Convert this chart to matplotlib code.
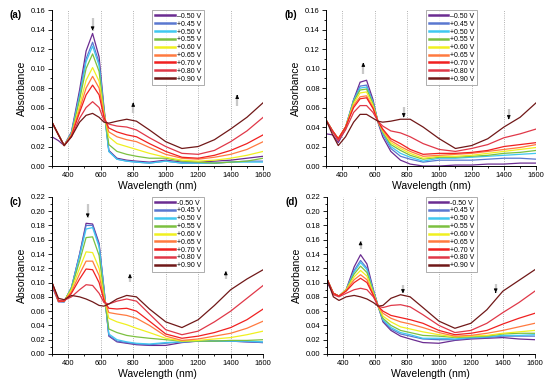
import numpy as np
import matplotlib
matplotlib.use('Agg')
import matplotlib.pyplot as plt
from matplotlib.ticker import MultipleLocator

plt.rcParams['font.family'] = ['Liberation Sans', 'DejaVu Sans']

# wavelength grid (nm) the values were read at
wl = [300, 340, 375, 420, 470, 510, 550, 590, 620, 650, 700, 760, 820, 900, 1000, 1100, 1200, 1300, 1400, 1500, 1600]

potentials = ['0.50 V', '+0.45 V', '+0.50 V', '+0.55 V', '+0.60 V', '+0.65 V', '+0.70 V', '+0.80 V', '+0.90 V']
colors = ['#6b2c91', '#5a78d0', '#40c8f0', '#7cc040', '#f0f020', '#ff7a40', '#f02020', '#e03848', '#701818']

# panel (a)
abs_a = [
    [.030, .026, .021, .035, .078, .118, .136, .112, .060, .016, .008, .006, .005, .004, .006, .004, .004, .005, .006, .008, .010],
    [.045, .032, .021, .034, .074, .110, .127, .106, .058, .015, .007, .005, .004, .003, .005, .003, .003, .003, .004, .005, .005],
    [.044, .032, .021, .034, .072, .107, .123, .103, .057, .015, .007, .005, .004, .003, .005, .003, .003, .003, .004, .004, .004],
    [.045, .032, .021, .033, .068, .100, .115, .097, .056, .022, .015, .012, .010, .008, .008, .005, .004, .003, .004, .005, .008],
    [.045, .032, .021, .032, .062, .088, .101, .087, .054, .030, .023, .020, .017, .013, .009, .006, .005, .006, .008, .011, .015],
    [.045, .032, .021, .032, .058, .080, .092, .080, .052, .035, .030, .027, .025, .019, .012, .008, .007, .009, .012, .017, .025],
    [.045, .032, .021, .031, .055, .073, .083, .073, .050, .039, .035, .032, .030, .023, .015, .009, .008, .011, .016, .023, .032],
    [.045, .032, .021, .030, .049, .060, .066, .060, .047, .043, .041, .040, .037, .029, .020, .013, .012, .016, .025, .036, .050],
    [.045, .032, .021, .030, .045, .052, .054, .050, .045, .044, .046, .048, .046, .037, .025, .018, .020, .027, .038, .050, .065],
]

# panel (b)
abs_b = [
    [.033, .032, .024, .038, .068, .086, .088, .068, .045, .030, .015, .006, .002, .000, .000, .001, .001, .002, .002, .003, .003],
    [.047, .036, .027, .040, .068, .082, .083, .066, .046, .033, .018, .010, .007, .004, .006, .006, .006, .007, .008, .008, .007],
    [.047, .036, .028, .040, .067, .080, .081, .065, .046, .034, .020, .013, .009, .005, .008, .008, .009, .010, .011, .012, .013],
    [.047, .036, .028, .040, .066, .078, .079, .064, .046, .035, .022, .016, .011, .007, .009, .009, .010, .011, .013, .014, .016],
    [.047, .036, .028, .040, .064, .075, .076, .062, .046, .036, .024, .018, .013, .008, .010, .010, .011, .013, .015, .017, .019],
    [.047, .036, .028, .040, .062, .071, .072, .060, .046, .037, .026, .020, .015, .010, .011, .012, .013, .015, .017, .019, .022],
    [.047, .036, .028, .040, .060, .069, .070, .059, .046, .038, .028, .023, .017, .012, .013, .013, .014, .016, .020, .022, .024],
    [.047, .035, .026, .037, .055, .062, .062, .055, .046, .041, .036, .034, .030, .023, .017, .015, .018, .022, .029, .033, .038],
    [.047, .032, .021, .030, .045, .053, .053, .049, .046, .045, .046, .048, .048, .040, .028, .018, .021, .028, .040, .050, .065],
]

# panel (c)
abs_c = [
    [.095, .073, .073, .093, .140, .183, .182, .155, .092, .025, .017, .015, .013, .012, .012, .016, .018, .018, .018, .017, .016],
    [.100, .074, .073, .093, .139, .180, .180, .153, .091, .026, .018, .016, .014, .013, .015, .017, .018, .018, .018, .017, .016],
    [.100, .074, .073, .093, .137, .175, .177, .150, .090, .028, .020, .017, .015, .014, .016, .017, .018, .018, .018, .018, .017],
    [.100, .074, .074, .092, .130, .163, .164, .138, .085, .035, .030, .026, .024, .022, .020, .018, .018, .018, .019, .019, .020],
    [.100, .074, .074, .090, .120, .143, .142, .120, .080, .050, .045, .041, .036, .030, .022, .018, .019, .021, .023, .027, .032],
    [.100, .074, .074, .087, .112, .130, .130, .110, .078, .058, .056, .054, .050, .040, .025, .019, .021, .025, .029, .036, .046],
    [.100, .074, .074, .085, .105, .119, .118, .100, .075, .064, .063, .064, .060, .046, .028, .022, .025, .030, .037, .048, .063],
    [.100, .075, .075, .080, .090, .097, .096, .085, .072, .070, .074, .077, .074, .056, .034, .027, .032, .045, .060, .078, .096],
    [.100, .078, .076, .082, .080, .077, .073, .068, .067, .070, .077, .082, .080, .063, .045, .037, .048, .068, .090, .105, .118],
]

# panel (d)
abs_d = [
    [.100, .085, .081, .090, .122, .139, .126, .090, .067, .045, .033, .025, .021, .016, .015, .019, .021, .022, .023, .021, .020],
    [.105, .085, .081, .090, .117, .131, .120, .089, .067, .047, .035, .028, .025, .021, .020, .020, .022, .023, .025, .025, .025],
    [.105, .085, .081, .090, .115, .128, .118, .088, .067, .048, .037, .030, .027, .022, .022, .021, .023, .024, .026, .026, .027],
    [.105, .085, .081, .090, .112, .123, .114, .087, .067, .050, .040, .033, .030, .026, .025, .023, .024, .025, .028, .029, .029],
    [.105, .085, .081, .090, .108, .117, .109, .085, .067, .053, .045, .038, .035, .031, .027, .024, .025, .026, .029, .031, .033],
    [.105, .085, .081, .089, .104, .111, .104, .083, .067, .057, .050, .045, .042, .037, .030, .025, .026, .029, .033, .038, .043],
    [.105, .085, .081, .088, .100, .106, .100, .082, .067, .060, .054, .051, .048, .043, .033, .027, .029, .033, .042, .050, .057],
    [.105, .083, .080, .085, .090, .092, .090, .080, .067, .065, .068, .069, .066, .055, .040, .030, .033, .043, .058, .072, .088],
    [.105, .080, .075, .080, .082, .080, .077, .072, .067, .068, .078, .083, .080, .065, .046, .036, .043, .062, .088, .103, .118],
]

# arrows: (wavelength, tail y, head y)
arrows_a = [(550, 0.152, 0.139), (800, 0.054, 0.065), (1440, 0.062, 0.073)]
arrows_b = [(530, 0.094, 0.106), (780, 0.061, 0.050), (1430, 0.059, 0.048)]
arrows_c = [(520, 0.210, 0.191), (780, 0.101, 0.112), (1370, 0.105, 0.116)]
arrows_d = [(510, 0.147, 0.158), (775, 0.096, 0.085), (1355, 0.098, 0.086)]

fig = plt.figure(figsize=(5.5, 3.87), dpi=100)

panels = [
    ('(a)', abs_a, arrows_a, 0.16, '\u2013', [0.0945, 0.571, 0.384, 0.403]),
    ('(b)', abs_b, arrows_b, 0.16, '\u2013', [0.593, 0.571, 0.382, 0.403]),
    ('(c)', abs_c, arrows_c, 0.22, '-', [0.0945, 0.0853, 0.384, 0.406]),
    ('(d)', abs_d, arrows_d, 0.22, '-', [0.5945, 0.0853, 0.378, 0.406]),
]

for tag, data, arrs, ymax, neg, pos in panels:
    ax = fig.add_axes(pos)
    for i in range(len(potentials)):
        lab = potentials[i] if i > 0 else neg + potentials[0]
        ax.plot(wl, data[i], color=colors[i], lw=0.9, label=lab)
    ax.set_xlim(300, 1600)
    ax.set_ylim(0, ymax)
    ax.xaxis.set_major_locator(MultipleLocator(200))
    ax.xaxis.set_minor_locator(MultipleLocator(100))
    ax.yaxis.set_major_locator(MultipleLocator(0.02))
    ax.yaxis.set_minor_locator(MultipleLocator(0.01))
    ax.set_xticks([400, 600, 800, 1000, 1200, 1400, 1600])
    ax.yaxis.set_major_formatter(matplotlib.ticker.FormatStrFormatter('%.2f'))
    ax.tick_params(which='both', direction='out', labelsize=5.5, width=0.6, pad=1.5)
    ax.tick_params(which='major', length=3)
    ax.tick_params(which='minor', length=1.6)
    for s in ['top', 'right']:
        ax.spines[s].set_visible(False)
    for s in ['left', 'bottom']:
        ax.spines[s].set_linewidth(0.7)
    for g in [400, 600, 800, 1000, 1200, 1400]:
        ax.axvline(g, color='#999999', ls=':', lw=0.6, zorder=0)
    ax.set_xlabel('Wavelength (nm)', fontsize=7.5, labelpad=1)
    ax.set_ylabel('Absorbance', fontsize=7.5, labelpad=3)
    for x, y0, y1 in arrs:
        # light grey stem, then a small black head
        ax.plot([x, x], [y0, y1], color='#c8c8c8', lw=1.6, solid_capstyle='butt', zorder=3)
        ax.annotate('', xy=(x, y1), xytext=(x, y1 - (y1 - y0) * 0.35),
                    arrowprops=dict(arrowstyle='-|>', color='black', lw=0.6, mutation_scale=5),
                    zorder=4)
    leg = ax.legend(loc='upper left', bbox_to_anchor=(0.475, 1.0), fontsize=5, frameon=True,
                    fancybox=False, edgecolor='#888888', handlelength=2.8, handletextpad=0.3,
                    labelspacing=0.12, borderpad=0.4, borderaxespad=0.0)
    leg.get_frame().set_linewidth(0.6)
    for h in leg.get_lines():
        h.set_linewidth(1.8)
    ax.text(-0.2, 0.97, tag, transform=ax.transAxes, fontsize=7, fontweight='bold', ha='left', va='center')

fig.savefig('out.png', dpi=100)
